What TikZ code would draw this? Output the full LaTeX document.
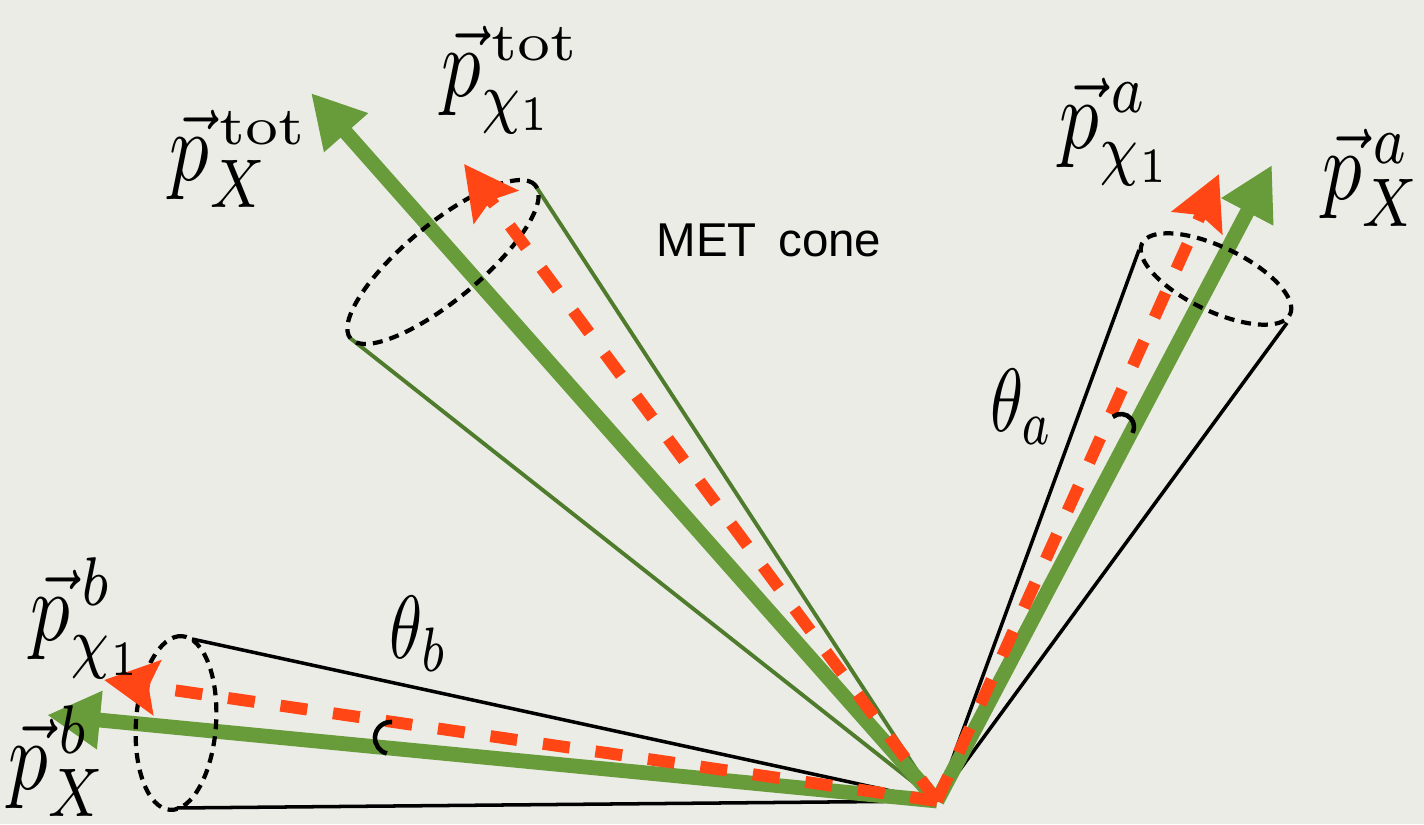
\documentclass[tikz,border=0pt]{standalone}
\usepackage[no-math]{fontspec}
\newfontfamily\metfont{Liberation Sans}
\usepackage{graphicx}
\usetikzlibrary{arrows.meta,shapes.geometric}
\definecolor{bgpaper}{RGB}{236,236,230}
\definecolor{arrgreen}{RGB}{104,156,58}
\definecolor{conegreen}{RGB}{78,124,44}
\definecolor{arrred}{RGB}{255,70,20}
\newcommand{\biglab}[1]{\scalebox{2.25}[2.8]{$#1$}}
\newcommand{\anglab}[1]{\scalebox{1.9}[2.55]{$#1$}}
\newcommand{\totsup}{\scalebox{1.05}[0.78]{$\scriptstyle\mathrm{tot}$}}
\begin{document}
\begin{tikzpicture}[x=0.01cm,y=0.01cm,
  greenarr/.style={draw=arrgreen, line width=4.2pt, -{Triangle[length=0.53cm,width=0.55cm]}},
  redarr/.style={draw=arrred, line width=3.4pt, dash pattern=on 0.27cm off 0.26cm, -{Stealth[length=0.53cm,width=0.54cm,inset=0.08cm]}},
  coneline/.style={line width=1pt, draw=black},
  conelinegreen/.style={line width=1.1pt, draw=conegreen},
  coneell/.style={ellipse, draw=black, line width=1.2pt, dash pattern=on 0.1cm off 0.07cm, inner sep=0pt, outer sep=0pt},
  arcmark/.style={line width=1.3pt, draw=black},
  vlabel/.style={inner sep=0pt},
  metlabel/.style={inner sep=0pt, font=\metfont\fontsize{13.5}{16}\selectfont}
]
\useasboundingbox (0,0) rectangle (1424,824);
\fill[bgpaper] (0,0) rectangle (1424,824);

% origin and tips
\coordinate (O) at (937,23);
\coordinate (gT) at (311,731);
\coordinate (rT) at (464,660);
\coordinate (gA) at (1272,659);
\coordinate (rA) at (1219,650);
\coordinate (gB) at (47,109);
\coordinate (rB) at (104,144);
% cone rim points
\coordinate (cT1) at (535,639);
\coordinate (cT2) at (350,486);
\coordinate (cA1) at (1139,574);
\coordinate (cA2) at (1287,501);
\coordinate (cB1) at (192,185);
\coordinate (cB2) at (177,16);

% cone lines
\draw[conelinegreen] (O) -- (cT1);
\draw[conelinegreen] (O) -- (cT2);
\draw[coneline] (O) -- (cA1);
\draw[coneline] (O) -- (cA2);
\draw[coneline] (O) -- (cB1);
\draw[coneline] (O) -- (cB2);

% green arrows
\draw[greenarr] (O) -- (gT);
\draw[greenarr] (O) -- (gA);
\draw[greenarr] (O) -- (gB);

% cone ellipses
\node[coneell, rotate=39.6, minimum width=2.4cm, minimum height=0.76cm] (eT) at (443,562) {};
\node[coneell, rotate=-25.6, minimum width=1.64cm, minimum height=0.64cm] (eA) at (1216,545) {};
\node[coneell, rotate=86, minimum width=1.74cm, minimum height=0.80cm] (eB) at (176,101) {};

% red dashed arrows
\draw[redarr] (O) -- (rT);
\draw[redarr] (O) -- (rA);
\draw[redarr] (O) -- (rB);

% angle marks
\draw[arcmark] (1112.8,407.1) arc[start angle=129, end angle=-27, radius=0.13cm];
\draw[arcmark] (392.1,102) arc[start angle=86, end angle=255, radius=0.16cm];

% labels
\node[vlabel, anchor=north] (lpTchi) at (511,799) {\biglab{\vec p^{\,\totsup}_{\chi_1}}};
\node[vlabel] (lpTX) at (239,665) {\biglab{\vec p^{\,\totsup}_{X}}};
\node[vlabel] (lpAchi) at (1117,692) {\biglab{\vec p^{\,a}_{\chi_1}}};
\node[vlabel] (lpAX) at (1372,646) {\biglab{\vec p^{\,a}_{X}}};
\node[vlabel] (lpBchi) at (88,206) {\biglab{\vec p^{\,b}_{\chi_1}}};
\node[vlabel, anchor=south] (lpBX) at (58,7) {\biglab{\vec p^{\,b}_{X}}};
\node[vlabel] (tha) at (1022,417) {\anglab{\theta_a}};
\node[vlabel] (thb) at (419,190) {\anglab{\theta_b}};
\node[metlabel] (met) at (769,584) {MET\hspace{0.45em}cone};
\end{tikzpicture}
\end{document}
